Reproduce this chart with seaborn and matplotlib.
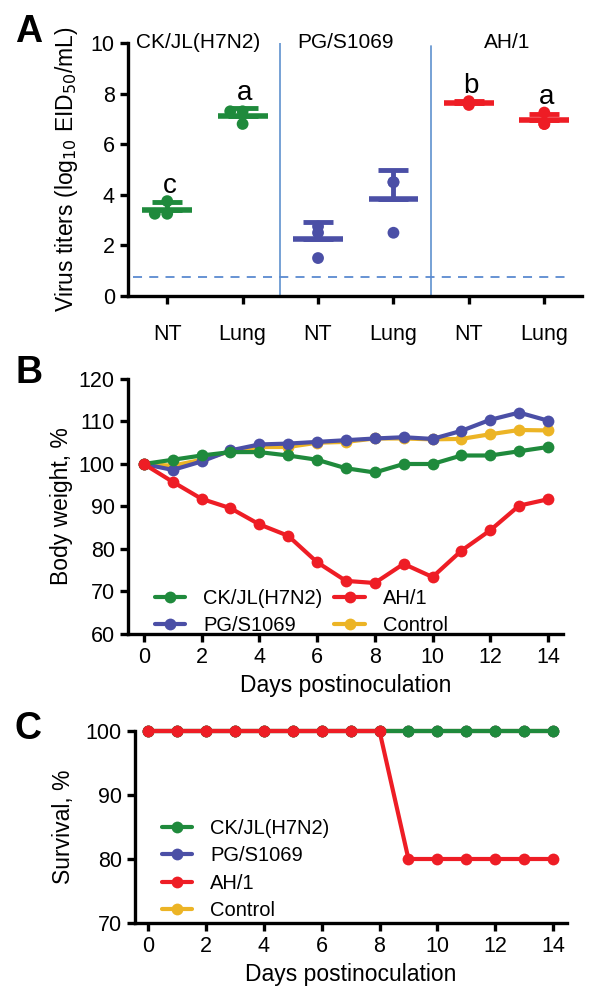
import numpy as np
import pandas as pd
import matplotlib
matplotlib.use("Agg")
import matplotlib.pyplot as plt
import seaborn as sns

sns.set_style("ticks")
plt.rcParams['font.family'] = ['Liberation Sans', 'DejaVu Sans']
plt.rcParams.update({"text.color": "black", "axes.labelcolor": "black",
                     "xtick.color": "black", "ytick.color": "black",
                     "axes.edgecolor": "black"})

strains = ["CK/JL(H7N2)", "PG/S1069", "AH/1"]
tissues = ["NT", "Lung"]
colors = {"CK/JL(H7N2)": "#1f8a3c", "PG/S1069": "#4b4fa6",
          "AH/1": "#ee1d25", "Control": "#ecb425"}

# A: virus titers (3 mice per group)
ck_nt = [3.75, 3.25, 3.25]
ck_lung = [7.3, 7.3, 6.8]
pg_nt = [2.75, 2.5, 1.5]
pg_lung = [4.5, 4.5, 2.5]
ah_nt = [7.7, 7.55, 7.6]
ah_lung = [7.25, 6.8, 6.8]
letters = ["c", "a", "", "", "b", "a"]
detect_limit = 0.75

# B: body weight
days = [0, 1, 2, 3, 4, 5, 6, 7, 8, 9, 10, 11, 12, 13, 14]
bw_ck = [100, 101, 102, 102.8, 102.8, 102, 101, 99, 98, 100, 100, 102, 102, 103, 104]
bw_pg = [100, 98.6, 100.6, 103.2, 104.6, 104.8, 105.2, 105.6, 106, 106.3, 105.9, 107.8, 110.4, 112.1, 110.2]
bw_ah = [100, 95.8, 91.8, 89.6, 85.8, 83.1, 76.9, 72.5, 72.0, 76.5, 73.4, 79.6, 84.4, 90.2, 91.7]
bw_ctrl = [100, 99.6, 101, 103, 104, 104, 105, 105.2, 106, 106, 105.8, 105.9, 107, 108, 107.9]

# C: survival
sv_ck = [100, 100, 100, 100, 100, 100, 100, 100, 100, 100, 100, 100, 100, 100, 100]
sv_pg = [100, 100, 100, 100, 100, 100, 100, 100, 100, 100, 100, 100, 100, 100, 100]
sv_ah = [100, 100, 100, 100, 100, 100, 100, 100, 100, 80, 80, 80, 80, 80, 80]
sv_ctrl = [100, 100, 100, 100, 100, 100, 100, 100, 100, 100, 100, 100, 100, 100, 100]

titers = {("CK/JL(H7N2)", "NT"): ck_nt, ("CK/JL(H7N2)", "Lung"): ck_lung,
          ("PG/S1069", "NT"): pg_nt, ("PG/S1069", "Lung"): pg_lung,
          ("AH/1", "NT"): ah_nt, ("AH/1", "Lung"): ah_lung}
rows = []
for (s, t), vals in titers.items():
    for v in vals:
        rows.append({"strain": s, "tissue": t, "group": s + " " + t, "titer": v})
df_a = pd.DataFrame(rows)
order = [s + " " + t for s in strains for t in tissues]

fig = plt.figure(figsize=(6, 9.88), dpi=100)
axA = fig.add_axes([0.2133, 0.7004, 0.7567, 0.2561])
axB = fig.add_axes([0.2133, 0.3583, 0.725, 0.2581])
axC = fig.add_axes([0.225, 0.0658, 0.72, 0.1943])

tick_fs = 15.5
lab_fs = 16.5

def style(ax):
    for sp in ["top", "right"]:
        ax.spines[sp].set_visible(False)
    for sp in ["left", "bottom"]:
        ax.spines[sp].set_linewidth(2.4)
    ax.tick_params(width=2.4, length=6, labelsize=tick_fs, color="black")

# ---- Panel A
# CK points spread sideways, the others sit on the centre line
spread = df_a["strain"] == "CK/JL(H7N2)"
sns.swarmplot(data=df_a[spread], x="group", y="titer", hue="strain", order=order,
              palette=colors, size=8.5, ax=axA, legend=False, zorder=2)
sns.stripplot(data=df_a[~spread], x="group", y="titer", hue="strain", order=order,
              palette=colors, size=8.5, jitter=False, ax=axA, legend=False, zorder=2)
stats = df_a.groupby("group", sort=False)["titer"].agg(["mean", "std", "max"])
for i, g in enumerate(order):
    c = colors[g.rsplit(" ", 1)[0]]
    m, sd, top = stats.loc[g, "mean"], stats.loc[g, "std"], stats.loc[g, "max"]
    axA.hlines(m, i - 0.33, i + 0.33, color=c, lw=4, zorder=3)
    axA.errorbar(i, m, yerr=[[0], [sd]], color=c, capsize=11, elinewidth=3.5,
                 capthick=3.5, fmt="none", zorder=3)
    if letters[i]:
        axA.text(i + 0.03, max(m + sd, top) + 0.6, letters[i], ha="center",
                 va="center", fontsize=20)
axA.axvline(1.5, color="#6b9ad2", lw=1.3, zorder=1)
axA.axvline(3.5, color="#6b9ad2", lw=1.3, ymax=0.99, zorder=1)
axA.hlines(detect_limit, -0.45, 5.28, color="#5a8ad0", lw=1.3, linestyles=(0, (5, 4)))
for xc, s in zip([0.41, 2.37, 4.51], strains):
    axA.text(xc, 10.0, s, ha="center", va="center", fontsize=15)
axA.set_xlim(-0.52, 5.5)
axA.set_ylim(0, 10)
axA.set_yticks([0, 2, 4, 6, 8, 10])
axA.set_xticks(range(6))
axA.set_xticklabels(["NT", "Lung"] * 3)
axA.set_xlabel("")
axA.set_ylabel("Virus titers (log$_{10}$ EID$_{50}$/mL)", fontsize=lab_fs, labelpad=8)
style(axA)
axA.tick_params(axis="x", pad=14)

# ---- Panel B
series_b = [("Control", bw_ctrl), ("PG/S1069", bw_pg), ("CK/JL(H7N2)", bw_ck), ("AH/1", bw_ah)]
for name, vals in series_b:
    sns.lineplot(x=days, y=vals, color=colors[name], marker="o", markersize=8.5,
                 markeredgewidth=0, linewidth=3, ax=axB, label=name, clip_on=False)
h, l = axB.get_legend_handles_labels()
hd = dict(zip(l, h))
leg_order = ["CK/JL(H7N2)", "PG/S1069", "AH/1", "Control"]
axB.legend([hd[k] for k in leg_order], leg_order, ncol=2, loc="lower left",
           bbox_to_anchor=(0.02, -0.075), frameon=False, fontsize=14.5,
           handlelength=1.5, handletextpad=0.9, labelspacing=0.4, columnspacing=0.6)
axB.set_xlim(-0.55, 14.52)
axB.set_ylim(60, 120)
axB.set_xticks([0, 2, 4, 6, 8, 10, 12, 14])
axB.set_yticks([60, 70, 80, 90, 100, 110, 120])
axB.set_xlabel("Days postinoculation", fontsize=lab_fs)
axB.set_ylabel("Body weight, %", fontsize=lab_fs, labelpad=4)
style(axB)

# ---- Panel C
series_c = [("Control", sv_ctrl), ("PG/S1069", sv_pg), ("CK/JL(H7N2)", sv_ck), ("AH/1", sv_ah)]
for name, vals in series_c:
    sns.lineplot(x=days, y=vals, color=colors[name], marker="o", markersize=8.5,
                 markeredgewidth=0, linewidth=3, ax=axC, label=name, clip_on=False)
h, l = axC.get_legend_handles_labels()
hd = dict(zip(l, h))
axC.legend([hd[k] for k in leg_order], leg_order, loc="lower left",
           bbox_to_anchor=(0.02, -0.08), frameon=False, fontsize=14.5,
           handlelength=1.5, handletextpad=0.9, labelspacing=0.42)
axC.set_xlim(-0.45, 14.48)
axC.set_ylim(70, 100)
axC.set_xticks([0, 2, 4, 6, 8, 10, 12, 14])
axC.set_yticks([70, 80, 90, 100])
axC.set_xlabel("Days postinoculation", fontsize=lab_fs)
axC.set_ylabel("Survival, %", fontsize=lab_fs, labelpad=8)
style(axC)

for txt, y in [("A", 0.968), ("B", 0.622), ("C", 0.262)]:
    fig.text(0.025, y, txt, fontsize=27, fontweight="bold", va="center", ha="left")

fig.savefig("out.png", dpi=100)
